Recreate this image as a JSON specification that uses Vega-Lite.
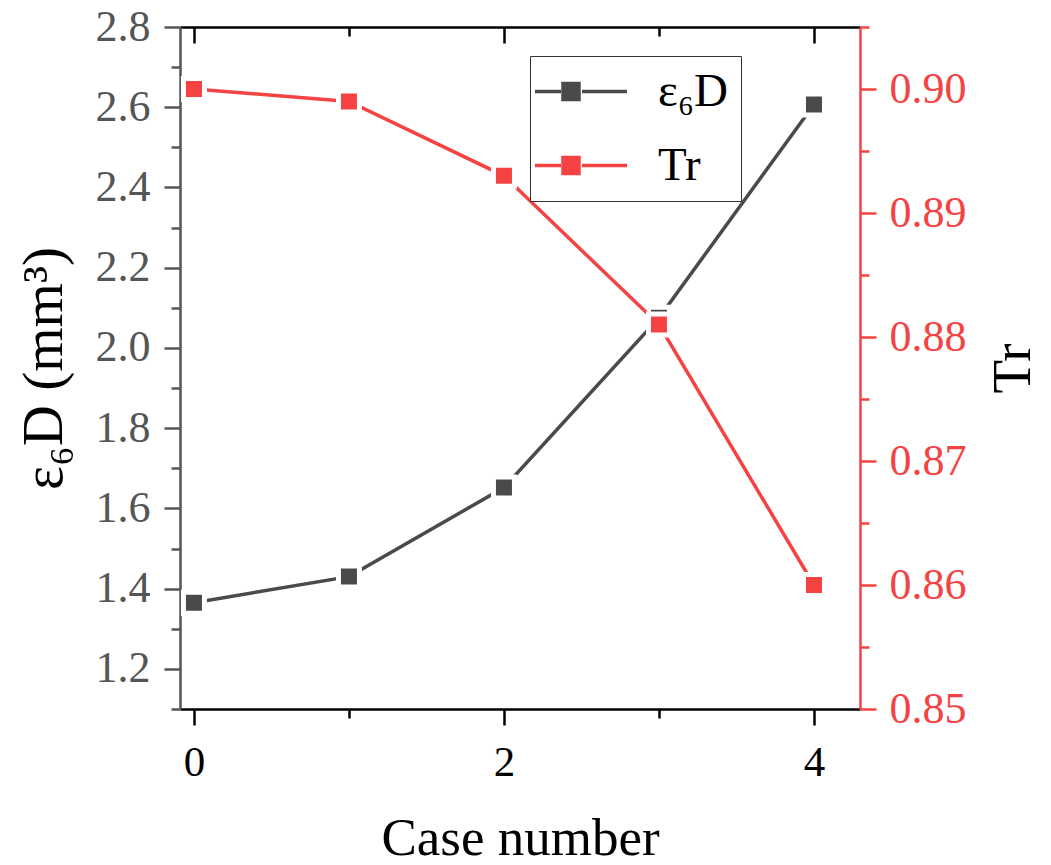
{
  "$schema": "https://vega.github.io/schema/vega-lite/v6.json",
  "autosize": "none",
  "width": 680,
  "height": 682,
  "padding": {"left": 180, "top": 27, "right": 191, "bottom": 156},
  "background": "white",
  "config": {
    "view": {"stroke": null},
    "font": "Liberation Serif",
    "style": {"guide-label": {"font": "Liberation Serif"}, "guide-title": {"font": "Liberation Serif"}},
    "axis": {"grid": false, "labelFont": "Liberation Serif", "titleFont": "Liberation Serif", "titleFontWeight": "normal", "labelOverlap": false, "labelBound": false, "labelFlush": false}
  },
  "data": {
    "values": [
      {"case": 0, "series": "ε₆D", "value": 1.365},
      {"case": 1, "series": "ε₆D", "value": 1.43},
      {"case": 2, "series": "ε₆D", "value": 1.652},
      {"case": 3, "series": "ε₆D", "value": 2.075},
      {"case": 4, "series": "ε₆D", "value": 2.607},
      {"case": 0, "series": "Tr", "value": 0.9},
      {"case": 1, "series": "Tr", "value": 0.899},
      {"case": 2, "series": "Tr", "value": 0.893},
      {"case": 3, "series": "Tr", "value": 0.881},
      {"case": 4, "series": "Tr", "value": 0.86}
    ]
  },
  "layer": [
    {
      "transform": [{"filter": "datum.series == 'ε₆D'"}],
      "encoding": {
        "x": {
          "field": "case", "type": "quantitative",
          "scale": {"domain": [-0.09, 4.297], "nice": false, "zero": false},
          "axis": {
            "orient": "bottom",
            "values": [0, 1, 2, 3, 4],
            "labelExpr": "datum.value % 2 == 0 ? datum.label : ''",
            "tickSize": {"condition": {"test": "datum.value % 2 == 0", "value": 16}, "value": 9},
            "tickWidth": 2.5, "tickColor": "#000", "domainColor": "#000", "domainWidth": 2.5,
            "labelFont": "Liberation Serif", "labelFontSize": 43, "labelColor": "#000", "labelPadding": 16,
            "title": "Case number", "titleFont": "Liberation Serif", "titleFontSize": 53, "titleColor": "#000", "titlePadding": 28
          }
        },
        "y": {
          "field": "value", "type": "quantitative",
          "scale": {"domain": [1.1, 2.8], "nice": false, "zero": false},
          "axis": {
            "orient": "left",
            "values": [1.1, 1.2, 1.3, 1.4, 1.5, 1.6, 1.7, 1.8, 1.9, 2.0, 2.1, 2.2, 2.3, 2.4, 2.5, 2.6, 2.7, 2.8],
            "labelExpr": "round(datum.value * 10) % 2 == 0 ? format(datum.value, '.1f') : ''",
            "tickSize": {"condition": {"test": "round(datum.value * 10) % 2 == 0", "value": 16}, "value": 9},
            "tickWidth": 2.5, "tickColor": "#555", "domainColor": "#555", "domainWidth": 2.5,
            "labelFont": "Liberation Serif", "labelFontSize": 44, "labelColor": "#555", "labelPadding": 14,
            "title": "ε₆D (mm³)", "titleFont": "Liberation Serif", "titleFontSize": 57, "titleColor": "#000", "titlePadding": 22
          }
        },
        "color": {
          "field": "series", "type": "nominal",
          "scale": {"domain": ["ε₆D", "Tr"], "range": ["#4a4a4a", "#f54242"]},
          "legend": {
            "orient": "none", "legendX": 350, "legendY": 29,
            "title": null,
            "symbolType": "M-3.05,0H-0.45M-0.25,-0.8H1.35V0.8H-0.25ZM1.65,0H6.15",
            "symbolSize": 400, "symbolStrokeWidth": 3.5,
            "labelFont": "Liberation Serif", "labelFontSize": 47, "labelColor": "#000",
            "labelOffset": 69, "padding": 12, "rowPadding": 26,
            "strokeColor": "#333", "fillColor": "white",
            "encode": {"symbols": {"update": {"fill": {"scale": "color", "field": "value"}, "stroke": {"scale": "color", "field": "value"}, "fillOpacity": {"value": 1}}}}
          }
        }
      },
      "layer": [
        {"mark": {"type": "line", "strokeWidth": 3.5}},
        {"mark": {"type": "point", "shape": "square", "filled": true, "size": 441, "opacity": 1, "stroke": "white", "strokeWidth": 5}}
      ]
    },
    {
      "transform": [{"filter": "datum.series == 'Tr'"}],
      "encoding": {
        "x": {
          "field": "case", "type": "quantitative",
          "scale": {"domain": [-0.09, 4.297], "nice": false, "zero": false},
          "axis": {
            "orient": "top",
            "values": [0, 1, 2, 3, 4],
            "labels": false,
            "tickSize": {"condition": {"test": "datum.value % 2 == 0", "value": -16}, "value": -9},
            "tickWidth": 2.5, "tickColor": "#000", "domainColor": "#000", "domainWidth": 2.5,
            "title": null
          }
        },
        "y": {
          "field": "value", "type": "quantitative",
          "scale": {"domain": [0.85, 0.905], "nice": false, "zero": false},
          "axis": {
            "orient": "right",
            "values": [0.85, 0.855, 0.86, 0.865, 0.87, 0.875, 0.88, 0.885, 0.89, 0.895, 0.9, 0.905],
            "labelExpr": "round(datum.value * 1000) % 10 == 0 ? format(datum.value, '.2f') : ''",
            "tickSize": {"condition": {"test": "round(datum.value * 1000) % 10 == 0", "value": 16}, "value": 9},
            "tickWidth": 2.5, "tickColor": "#f54242", "domainColor": "#f54242", "domainWidth": 2.5,
            "labelFont": "Liberation Serif", "labelFontSize": 44, "labelColor": "#f54242", "labelPadding": 13,
            "title": "Tr", "titleFont": "Liberation Serif", "titleFontSize": 55, "titleColor": "#000", "titlePadding": 20,
            "titleAngle": 270, "titleBaseline": "top"
          }
        },
        "color": {"field": "series", "type": "nominal"}
      },
      "layer": [
        {"mark": {"type": "line", "strokeWidth": 3.5}},
        {"mark": {"type": "point", "shape": "square", "filled": true, "size": 441, "opacity": 1, "stroke": "white", "strokeWidth": 5}}
      ]
    }
  ],
  "resolve": {"scale": {"y": "independent"}, "axis": {"x": "independent", "y": "independent"}}
}
